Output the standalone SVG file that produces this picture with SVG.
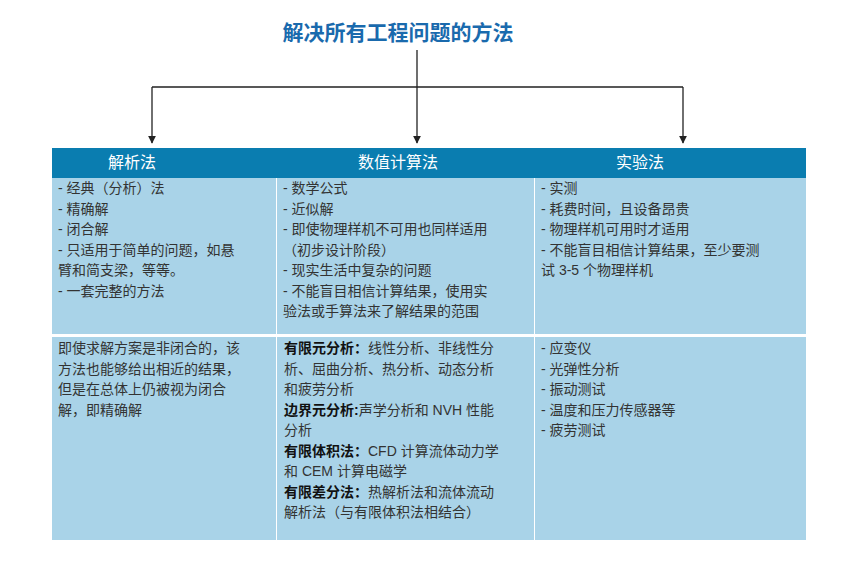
<svg xmlns="http://www.w3.org/2000/svg" width="862" height="567" viewBox="0 0 862 567">
<defs><marker id="ar" viewBox="0 0 10 10" refX="9" refY="5" markerWidth="6" markerHeight="8" orient="auto"><path d="M0,0L10,5L0,10z" fill="#222"/></marker></defs>
<style>
text{font-family:"Liberation Sans","Noto Sans CJK SC",sans-serif;}
.t{font-size:14px;fill:#333;}
.b{font-weight:bold;fill:#111;}
.h{font-size:16px;fill:#fff;text-anchor:middle;}
.c{fill:#a9d3e8;}
.ln{stroke:#222;stroke-width:1.3;fill:none;}
</style>
<rect width="862" height="567" fill="#fff"/>
<text x="398" y="40" text-anchor="middle" font-size="21" font-weight="bold" fill="#1a6aad">解决所有工程问题的方法</text>
<g id="connectors">
<path class="ln" d="M417,50V87M152,87H683"/>
<path class="ln" d="M152,87V143" marker-end="url(#ar)"/>
<path class="ln" d="M417,87V143" marker-end="url(#ar)"/>
<path class="ln" d="M683,87V143" marker-end="url(#ar)"/>
</g>
<g id="header">
<rect x="52" y="148" width="754" height="30" fill="#0a7db0"/>
<text class="h" x="132" y="168">解析法</text>
<text class="h" x="398" y="168">数值计算法</text>
<text class="h" x="640" y="168">实验法</text>
</g>
<g id="col1">
<rect class="c" x="52" y="178" width="224" height="156"/>
<rect class="c" x="52" y="337" width="224" height="203"/>
<text class="t" x="58" y="193">-  经典（分析）法</text>
<text class="t" x="58" y="214">-  精确解</text>
<text class="t" x="58" y="234">-  闭合解</text>
<text class="t" x="58" y="255">-  只适用于简单的问题，如悬</text>
<text class="t" x="58" y="275">臂和简支梁，等等。</text>
<text class="t" x="58" y="296">-  一套完整的方法</text>
<text class="t" x="58" y="353">即使求解方案是非闭合的，该</text>
<text class="t" x="58" y="374">方法也能够给出相近的结果，</text>
<text class="t" x="58" y="394">但是在总体上仍被视为闭合</text>
<text class="t" x="58" y="415">解，即精确解</text>
</g>
<g id="col2">
<rect class="c" x="277" y="178" width="257" height="156"/>
<rect class="c" x="277" y="337" width="257" height="203"/>
<text class="t" x="283" y="193">-  数学公式</text>
<text class="t" x="283" y="214">-  近似解</text>
<text class="t" x="283" y="234">-  即使物理样机不可用也同样适用</text>
<text class="t" x="283" y="255">（初步设计阶段）</text>
<text class="t" x="283" y="275">-  现实生活中复杂的问题</text>
<text class="t" x="283" y="296">-  不能盲目相信计算结果，使用实</text>
<text class="t" x="283" y="316">验法或手算法来了解结果的范围</text>
<text class="t" x="284" y="353"><tspan class="b">有限元分析：</tspan>线性分析、非线性分</text>
<text class="t" x="284" y="374">析、屈曲分析、热分析、动态分析</text>
<text class="t" x="284" y="394">和疲劳分析</text>
<text class="t" x="284" y="415"><tspan class="b">边界元分析:</tspan>声学分析和 NVH 性能</text>
<text class="t" x="284" y="435">分析</text>
<text class="t" x="284" y="456"><tspan class="b">有限体积法：</tspan>CFD 计算流体动力学</text>
<text class="t" x="284" y="476">和 CEM 计算电磁学</text>
<text class="t" x="284" y="497"><tspan class="b">有限差分法：</tspan>热解析法和流体流动</text>
<text class="t" x="284" y="517">解析法（与有限体积法相结合）</text>
</g>
<g id="col3">
<rect class="c" x="535" y="178" width="271" height="156"/>
<rect class="c" x="535" y="337" width="271" height="203"/>
<text class="t" x="541" y="193">-  实测</text>
<text class="t" x="541" y="214">-  耗费时间，且设备昂贵</text>
<text class="t" x="541" y="234">-  物理样机可用时才适用</text>
<text class="t" x="541" y="255">-  不能盲目相信计算结果，至少要测</text>
<text class="t" x="541" y="275">试 3-5 个物理样机</text>
<text class="t" x="541" y="353">-  应变仪</text>
<text class="t" x="541" y="374">-  光弹性分析</text>
<text class="t" x="541" y="394">-  振动测试</text>
<text class="t" x="541" y="415">-  温度和压力传感器等</text>
<text class="t" x="541" y="435">-  疲劳测试</text>
</g>
</svg>
